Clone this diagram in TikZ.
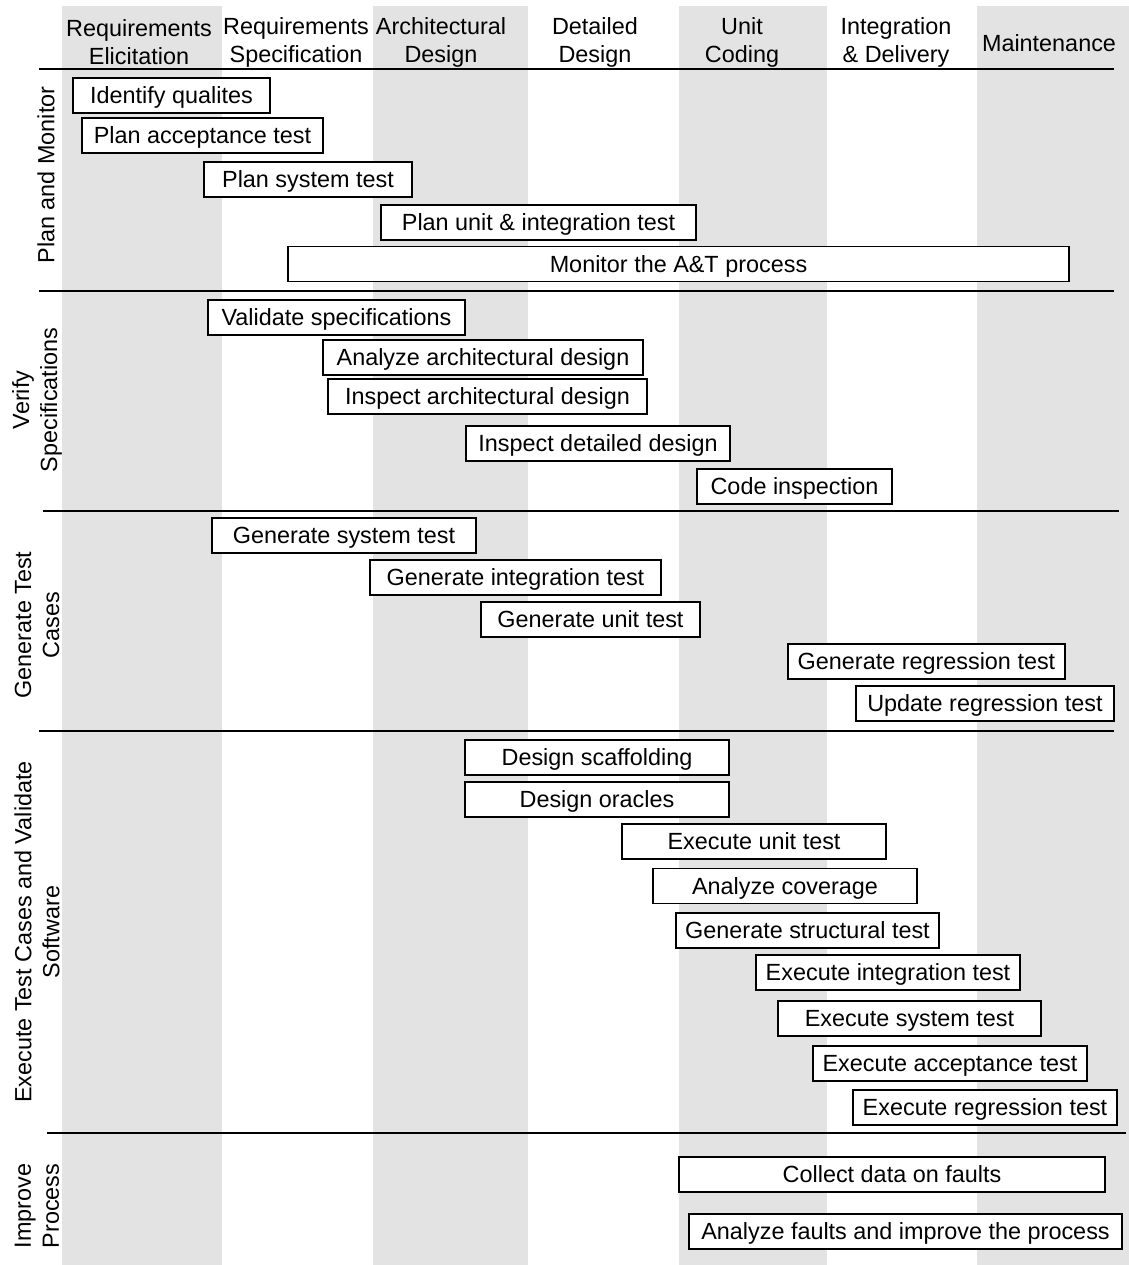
\documentclass[tikz,border=0pt]{standalone}
\usepackage{fontspec}
\setmainfont{Liberation Sans}
\usepackage{tikz}
\usetikzlibrary{positioning}
\usepackage{xcolor}
\definecolor{phgray}{RGB}{227,227,227}
\tikzstyle{task} = [draw=black, line width=0.7pt, fill=white, minimum height=17.5pt, inner sep=0pt, text height=10.6pt, text depth=2.5pt, font=\fontsize{11.7}{14}\selectfont]
\tikzstyle{phase} = [align=center, font=\fontsize{11.7}{14}\selectfont]
\tikzstyle{activity} = [align=center, rotate=90, font=\fontsize{11.7}{14}\selectfont]
\tikzstyle{sep} = [line width=0.7pt]

\begin{document}
\begin{tikzpicture}[x=0.5pt, y=-0.5pt]
\useasboundingbox (0,0) rectangle (1129,1265);

% Shaded phase columns
\fill[phgray] (62,6) rectangle (222,1265);
\fill[phgray] (373,6) rectangle (528,1265);
\fill[phgray] (679,6) rectangle (827,1265);
\fill[phgray] (977,6) rectangle (1129,1265);

% Phase headings
\node[phase] (re) at (139,42) {Requirements\\Elicitation};
\node[phase] (rs) at (296,42) {Requirements\\Specification};
\node[phase] (ad) at (441,42) {Architectural\\Design};
\node[phase] (dd) at (595,42) {Detailed\\Design};
\node[phase] (uc) at (742,42) {Unit\\Coding};
\node[phase] (id) at (896,42) {Integration\\\& Delivery};
\node[phase] (mt) at (1049,43) {Maintenance};

% Separating lines
\draw[sep] (39,69) -- (1114,69);
\draw[sep] (39,291) -- (1114,291);
\draw[sep] (43,511) -- (1119,511);
\draw[sep] (39,731) -- (1114,731);
\draw[sep] (47,1133) -- (1126,1133);

% Activity labels
\node[activity] (pm) at (46,175) {Plan and Monitor};
\node[activity] (vsp) at (37,400) {Verify\\Specifications};
\node[activity] (gtc) at (37,625) {Generate Test\\Cases};
\node[activity] (etc) at (37,932) {Execute Test Cases and Validate\\Software};
\node[activity] (ip) at (37,1206) {Improve\\Process};

% Plan and Monitor
\node[task, minimum width=98.5pt] (idq) at (171.5,95.5) {Identify qualites};
\node[task, minimum width=120.5pt] (pat) at (202.5,135.5) {Plan acceptance test};
\node[task, minimum width=104pt] (pst) at (308,179.5) {Plan system test};
\node[task, minimum width=157.5pt] (puit) at (538.5,222.5) {Plan unit \& integration test};
\node[task, minimum width=390.5pt] (mon) at (678.5,264) {Monitor the A\&T process};

% Verify Specifications
\node[task, minimum width=128.5pt] (vs) at (336.5,317.5) {Validate specifications};
\node[task, minimum width=160pt] (aad) at (483,357.5) {Analyze architectural design};
\node[task, minimum width=159.5pt] (iad) at (487.5,396.5) {Inspect architectural design};
\node[task, minimum width=132pt] (idd) at (598,443.5) {Inspect detailed design};
\node[task, minimum width=97.5pt] (ci) at (794.5,486.5) {Code inspection};

% Generate Test Cases
\node[task, minimum width=132pt] (gst) at (344,535.5) {Generate system test};
\node[task, minimum width=145.5pt] (git) at (515.5,577.5) {Generate integration test};
\node[task, minimum width=109.5pt] (gut) at (590.5,619.5) {Generate unit test};
\node[task, minimum width=138.5pt] (grt) at (926.5,661.5) {Generate regression test};
\node[task, minimum width=129pt] (urt) at (985,703.5) {Update regression test};

% Execute Test Cases and Validate Software
\node[task, minimum width=132pt] (dsc) at (597,757.5) {Design scaffolding};
\node[task, minimum width=132pt] (dor) at (597,799.5) {Design oracles};
\node[task, minimum width=132pt] (eut) at (754,841.5) {Execute unit test};
\node[task, minimum width=132pt] (acv) at (785,886) {Analyze coverage};
\node[task, minimum width=131.5pt] (gsrt) at (807.5,930.5) {Generate structural test};
\node[task, minimum width=132pt] (eit) at (888,972.5) {Execute integration test};
\node[task, minimum width=131.5pt] (est) at (909.5,1018.5) {Execute system test};
\node[task, minimum width=137pt] (eat) at (950,1063.5) {Execute acceptance test};
\node[task, minimum width=132pt] (ert) at (985,1107.5) {Execute regression test};

% Improve Process
\node[task, minimum width=213pt] (cdf) at (892,1174.5) {Collect data on faults};
\node[task, minimum width=216.5pt] (afi) at (905.5,1231.5) {Analyze faults and improve the process};
\end{tikzpicture}
\end{document}
